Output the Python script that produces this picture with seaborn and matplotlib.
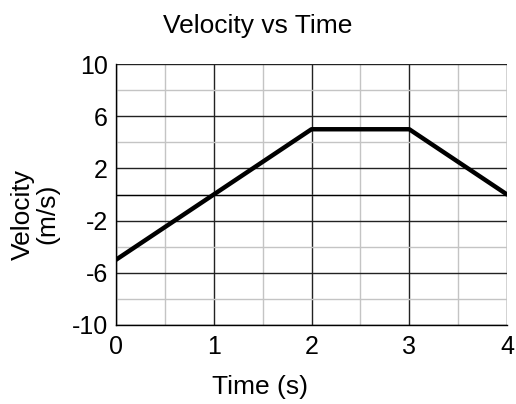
import numpy as np
import pandas as pd
import matplotlib
matplotlib.use('Agg')
import matplotlib.pyplot as plt
import seaborn as sns
from matplotlib.ticker import MultipleLocator

# 数据
time_s = [0, 1, 2, 3, 4]
velocity = [-5, 0, 5, 5, 0]
x_ticks = [0, 1, 2, 3, 4]
y_ticks = [-10, -6, -2, 2, 6, 10]

df = pd.DataFrame({'Time': time_s, 'Velocity': velocity})

sns.set_style('white')
plt.rcParams['font.family'] = ['Liberation Sans', 'DejaVu Sans']
plt.rcParams['axes.unicode_minus'] = False
plt.rcParams['text.color'] = 'black'
plt.rcParams['axes.labelcolor'] = 'black'
plt.rcParams['xtick.color'] = 'black'
plt.rcParams['ytick.color'] = 'black'

fig = plt.figure(figsize=(5.16, 4.04), dpi=100)
ax = fig.add_axes([116 / 516, 1 - 325 / 404, (507 - 116) / 516, (325 - 64) / 404])

sns.lineplot(data=df, x='Time', y='Velocity', ax=ax, color='black', linewidth=3.2, zorder=5)

ax.set_xlim(0, 4)
ax.set_ylim(-10, 10)
ax.set_xticks(x_ticks)
ax.set_yticks(y_ticks)
ax.xaxis.set_minor_locator(MultipleLocator(0.5))
ax.yaxis.set_minor_locator(MultipleLocator(2))

# 网格
ax.grid(which='major', color='#222222', linewidth=1.0)
ax.grid(which='minor', color='#c4c4c4', linewidth=1.0)
ax.axhline(0, color='black', linewidth=1.0, zorder=2)
ax.set_axisbelow(True)

for side in ['top', 'right']:
    ax.spines[side].set_visible(False)
for side in ['left', 'bottom']:
    ax.spines[side].set_color('black')
    ax.spines[side].set_linewidth(1.0)

ax.tick_params(which='major', axis='both', direction='out', length=5, width=1,
               labelsize=18, pad=2)
ax.tick_params(which='minor', length=0)
ax.tick_params(axis='y', length=4)

ax.set_xlabel('Time (s)', fontsize=19, va='baseline')
ax.xaxis.set_label_coords((260 - 116) / 391, (325 - 394) / 261)
ax.set_ylabel('Velocity\n(m/s)', fontsize=19, linespacing=1.05, va='center')
ax.yaxis.set_label_coords((35 - 116) / 391, (325 - 214) / 261)

fig.text(0.5, 1 - 33 / 404, 'Velocity vs Time', fontsize=19, ha='center', va='baseline')

fig.savefig('out.png', dpi=100)
